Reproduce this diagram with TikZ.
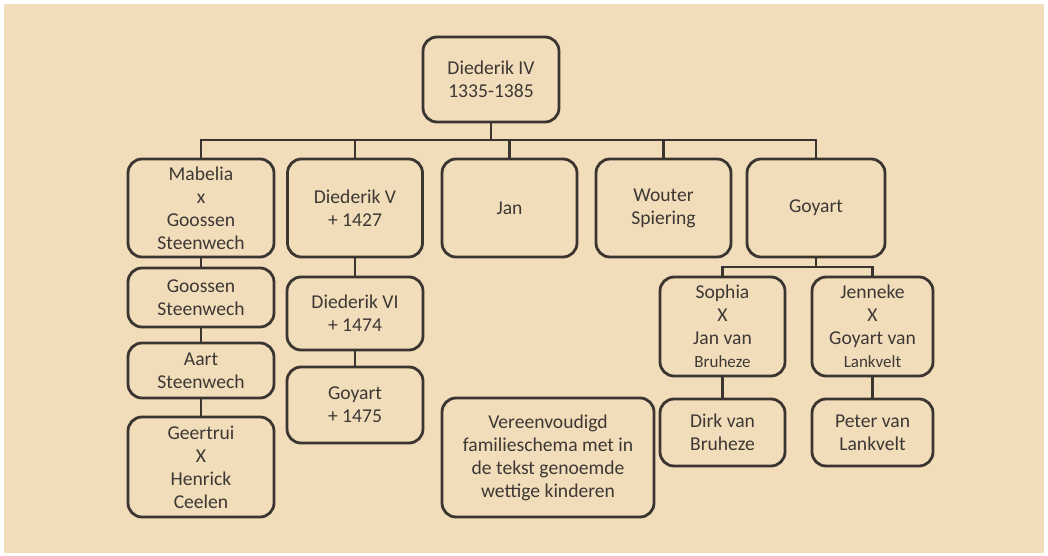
\documentclass[tikz,border=0pt]{standalone}
\usepackage{fontspec}
\setmainfont{Carlito}
\usepackage{tikz}
\definecolor{beige}{RGB}{242,221,187}
\definecolor{ink}{RGB}{58,53,48}
\definecolor{txt}{RGB}{60,56,52}

\begin{document}
\begin{tikzpicture}[x=1pt,y=-1pt,
  persoon/.style={draw=ink,line width=2.8pt,rounded corners=14pt,fill=beige,
    align=center,inner sep=0pt,text=txt,font=\fontsize{19.6}{23}\selectfont},
  lijn/.style={draw=ink,line width=2.8pt}]
\useasboundingbox (0,0) rectangle (1048,556);
\fill[white] (0,0) rectangle (1048,556);
\fill[beige] (4,4) rectangle (1044,553);
\node[persoon,minimum width=136,minimum height=85] (a0) at (491,79.5) {Diederik IV\\1335-1385};
\node[persoon,minimum width=146,minimum height=98] (a1) at (201,208) {Mabelia\\x\\Goossen\\Steenwech};
\node[persoon,minimum width=135,minimum height=98] (a2) at (355,208) {Diederik V\\+ 1427};
\node[persoon,minimum width=135,minimum height=98] (a3) at (509.5,208) {Jan};
\node[persoon,minimum width=135,minimum height=98] (a4) at (663.5,208) {Wouter\\Spiering};
\node[persoon,minimum width=138,minimum height=98] (a5) at (816,208) {Goyart};
\node[persoon,minimum width=146,minimum height=59] (a6) at (201,297.5) {Goossen\\Steenwech};
\node[persoon,minimum width=146,minimum height=55] (a7) at (201,370.5) {Aart\\Steenwech};
\node[persoon,minimum width=146,minimum height=100] (a8) at (201,467) {Geertrui\\X\\Henrick\\Ceelen};
\node[persoon,minimum width=136,minimum height=73] (a9) at (355,313.5) {Diederik VI\\+ 1474};
\node[persoon,minimum width=136,minimum height=76] (a10) at (355,405) {Goyart\\+ 1475};
\node[persoon,minimum width=125,minimum height=99] (a11) at (722.5,326.5) {Sophia\\X\\Jan van\\{\fontsize{17}{21}\selectfont Bruheze}};
\node[persoon,minimum width=121,minimum height=99] (a12) at (872.5,326.5) {Jenneke\\X\\Goyart van\\{\fontsize{17}{21}\selectfont Lankvelt}};
\node[persoon,minimum width=125,minimum height=67] (a13) at (722.5,432.5) {Dirk van\\Bruheze};
\node[persoon,minimum width=121,minimum height=67] (a14) at (872.5,432.5) {Peter van\\Lankvelt};
\node[persoon,minimum width=212,minimum height=119] (a15) at (548,457.5) {Vereenvoudigd\\familieschema met in\\de tekst genoemde\\wettige kinderen};
\coordinate (b0) at (491,140);
\coordinate (b1) at (816,267);
\draw[lijn] (a0) -- (b0);
\draw[lijn] (b0) -| (a1);
\draw[lijn] (b0) -| (a2);
\draw[lijn] (b0) -| (a3);
\draw[lijn] (b0) -| (a4);
\draw[lijn] (b0) -| (a5);
\draw[lijn] (a1) -- (a6);
\draw[lijn] (a6) -- (a7);
\draw[lijn] (a7) -- (a8);
\draw[lijn] (a2) -- (a9);
\draw[lijn] (a9) -- (a10);
\draw[lijn] (a5) -- (b1);
\draw[lijn] (b1) -| (a11);
\draw[lijn] (b1) -| (a12);
\draw[lijn] (a11) -- (a13);
\draw[lijn] (a12) -- (a14);
\end{tikzpicture}
\end{document}
